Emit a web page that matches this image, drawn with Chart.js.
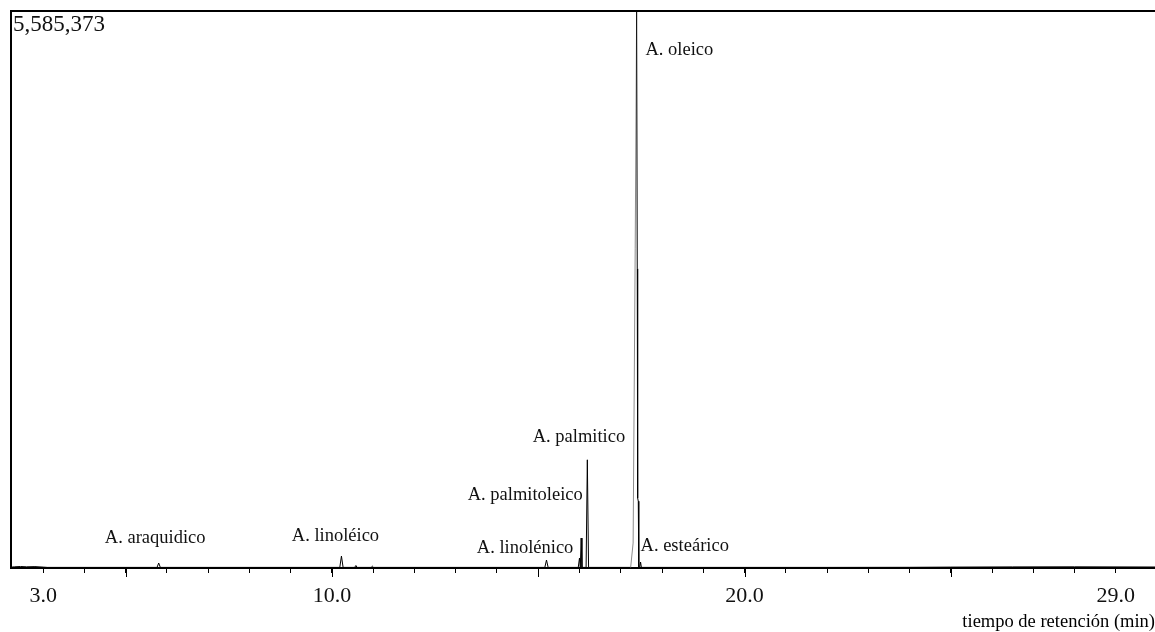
<!DOCTYPE html>
<html>
<head>
<meta charset="utf-8">
<script src="https://cdn.jsdelivr.net/npm/chart.js@4"></script>
<style>
  body { margin: 0; background: #fff; }
  #wrap { width: 1155px; height: 632px; }
</style>
</head>
<body>
<div id="wrap"><canvas id="chromChart"></canvas></div>
<script>
const ctx = document.getElementById('chromChart');

// retention time (min) and detector signal
const rt = [
  2.22, 2.30, 2.45, 2.60, 2.80, 3.00, 3.10, 4.00, 5.00, 5.76, 5.80, 5.84,
  7.00, 9.00, 10.19, 10.23, 10.27, 10.55, 10.58, 10.61, 10.95, 10.98, 11.01,
  13.00, 15.16, 15.20, 15.24, 15.97, 16.00, 16.02, 16.04, 16.06, 16.16, 16.19,
  16.22, 17.24, 17.30, 17.35, 17.385, 17.40, 17.41, 17.425, 17.435, 17.44,
  17.46, 17.48, 17.50, 20.00, 22.00, 24.00, 25.00, 26.50, 28.00, 29.95
];
const signal = [
  8000, 12000, 15000, 12000, 14000, 9000, 6000, 6000, 6000, 6000, 50000, 6000,
  6000, 6000, 6000, 120000, 6000, 6000, 25000, 6000, 6000, 18000, 6000,
  6000, 6000, 80000, 6000, 6000, 100000, 6000, 300000, 6000, 6000, 1085000,
  6000, 6000, 250000, 3200000, 5585373, 3000000, 700000, 670000, 50000, 6000,
  6000, 60000, 6000, 6000, 6000, 7000, 9000, 11000, 12000, 10000
];

const yMax = 5585373;
const xLabels = [3, 10, 20, 29];
const majorTicks = [5, 10, 15, 20, 25];
const xTitle = 'tiempo de retención (min)';

const peakNames = ['A. araquidico', 'A. linoléico', 'A. linolénico', 'A. palmitoleico', 'A. palmitico', 'A. oleico', 'A. esteárico'];
const peakLabelRt = [4.495, 9.026, 13.51, 13.29, 14.866, 17.60, 17.48];
const peakLabelY = [300800, 320900, 200550, 732000, 1313600, 5194000, 220600];

const serif = '"Liberation Serif", "Times New Roman", serif';

const overlay = {
  id: 'overlay',
  afterDraw(chart) {
    const c = chart.ctx;
    const a = chart.chartArea;
    const xs = chart.scales.x;
    const ys = chart.scales.y;
    c.save();
    // frame: left and top edges
    c.strokeStyle = '#000';
    c.lineWidth = 2;
    c.beginPath();
    c.moveTo(a.left, a.bottom);
    c.lineTo(a.left, a.top);
    c.lineTo(a.right, a.top);
    c.stroke();
    // longer ticks every 5 min
    c.lineWidth = 1;
    majorTicks.forEach(v => {
      const px = Math.round(xs.getPixelForValue(v)) + 0.5;
      c.beginPath();
      c.moveTo(px, a.bottom);
      c.lineTo(px, a.bottom + 9);
      c.stroke();
    });
    // full-scale value
    c.fillStyle = '#111';
    c.font = '23px ' + serif;
    c.textBaseline = 'top';
    c.textAlign = 'left';
    c.fillText(yMax.toLocaleString('en-US'), a.left + 2, a.top + 2);
    // peak names
    c.font = '18.5px ' + serif;
    c.textBaseline = 'middle';
    peakNames.forEach((name, i) => {
      c.fillText(name, xs.getPixelForValue(peakLabelRt[i]), ys.getPixelForValue(peakLabelY[i]));
    });
    // axis title, right aligned under the axis
    c.fillStyle = '#000';
    c.textAlign = 'right';
    c.fillText(xTitle, a.right, a.bottom + 54);
    c.restore();
  }
};

const data = {
  datasets: [{
    data: rt.map((t, i) => ({ x: t, y: signal[i] })),
    borderColor: '#000',
    borderWidth: 1,
    pointRadius: 0,
    tension: 0,
    segment: {
      borderColor: s => (s.p0.parsed.x >= 17.24 && s.p1.parsed.x <= 17.385) ? '#8c8c8c' : undefined
    }
  }]
};

const config = {
  type: 'line',
  data: data,
  plugins: [overlay],
  options: {
    responsive: true,
    maintainAspectRatio: false,
    animation: false,
    layout: { padding: { left: 11, top: 11, right: 0, bottom: 11.6 } },
    plugins: { legend: { display: false }, tooltip: { enabled: false } },
    scales: {
      x: {
        type: 'linear',
        min: 2.22,
        max: 29.95,
        afterBuildTicks: scale => {
          const t = [];
          for (let v = 3; v <= 29; v++) t.push({ value: v });
          scale.ticks = t;
        },
        grid: { drawOnChartArea: false, drawTicks: true, tickLength: 5, tickColor: '#000', tickWidth: 1 },
        border: { display: true, color: '#000', width: 2 },
        ticks: {
          autoSkip: false,
          maxRotation: 0,
          padding: 10.5,
          color: '#111',
          font: { family: serif, size: 22, lineHeight: 1.2 },
          callback: v => xLabels.includes(v) ? v.toFixed(1) : ''
        }
      },
      y: {
        display: false,
        min: 0,
        max: yMax
      }
    }
  }
};

new Chart(ctx, config);
</script>
</body>
</html>
